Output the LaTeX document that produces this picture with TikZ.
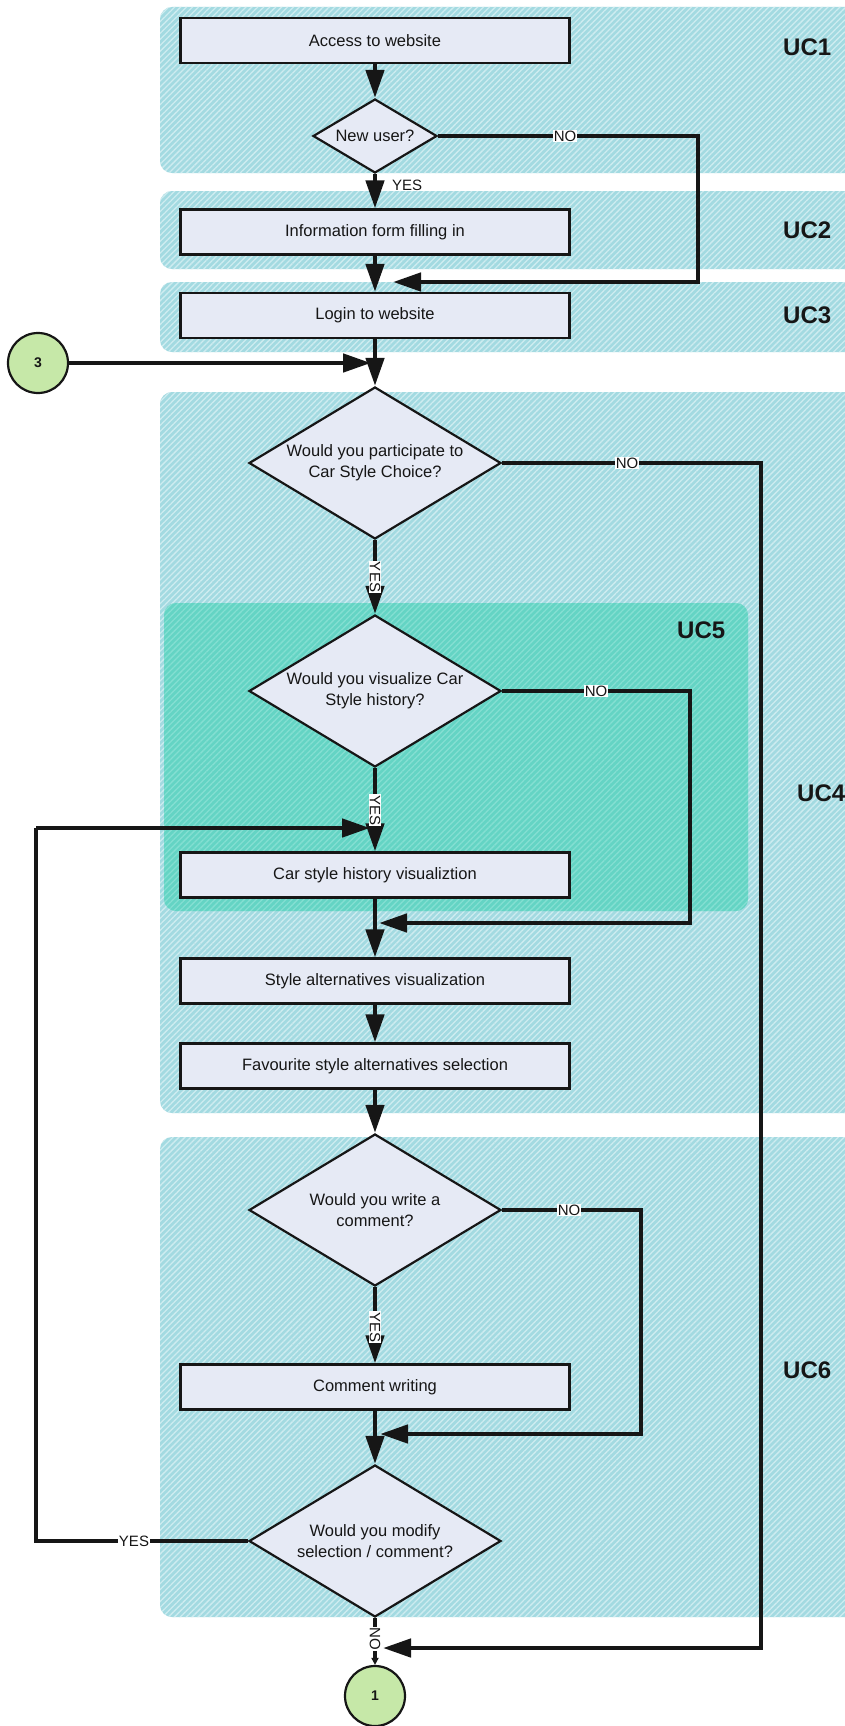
\documentclass[tikz,border=0pt]{standalone}
\usepackage{fontspec}
\setmainfont{Liberation Sans}
\usetikzlibrary{shapes.geometric,arrows.meta,patterns.meta}

\definecolor{ink}{RGB}{22,22,22}
\definecolor{ucfill}{RGB}{163,218,225}
\definecolor{uchatch}{RGB}{206,236,240}
\definecolor{ucdeep}{RGB}{100,212,196}
\definecolor{ucdeephatch}{RGB}{132,223,210}
\definecolor{boxfill}{RGB}{230,234,245}
\definecolor{cgreen}{RGB}{198,232,168}

\newcommand\bxfont{\fontsize{16.5}{21}\selectfont}
\newcommand\lblfont{\fontsize{15}{17}\selectfont}
\newcommand\ucfont{\bfseries\fontsize{24}{26}\selectfont}

\begin{document}
\begin{tikzpicture}[x=1pt,y=-1pt,
  panelbg/.style={fill=ucfill, rounded corners=12pt},
  panelhatch/.style={pattern={Lines[angle=45,distance=4.2pt,line width=1.3pt]},
                     pattern color=uchatch, rounded corners=12pt},
  stepbox/.style={rectangle, draw=ink, line width=2.2pt, fill=boxfill,
                  minimum width=389pt, minimum height=45pt, inner sep=0pt,
                  font=\bxfont, text=ink},
  decision/.style={diamond, draw=ink, line width=2.2pt, fill=boxfill,
                   aspect=1.66, inner sep=0pt, align=center,
                   font=\bxfont, text=ink,
                   minimum width=252pt, minimum height=152pt},
  connector/.style={circle, draw=ink, line width=2.2pt, fill=cgreen,
                    minimum size=60pt, inner sep=0pt,
                    font=\bfseries\fontsize{14}{16}\selectfont, text=ink},
  uclabel/.style={anchor=west, font=\ucfont, text=ink, inner sep=0pt},
  flow/.style={draw=ink, line width=4.6pt},
  arr/.style={flow, -{Triangle[length=28pt,width=18pt]}},
  lbl/.style={fill=white, inner sep=1pt, font=\lblfont, text=ink}]

\useasboundingbox (0,0) rectangle (845,1726);
\clip (0,0) rectangle (845,1726);
\fill[white] (0,0) rectangle (845,1726);

% use-case panels
\foreach \ya/\yb in {7/173, 191/269, 282/352, 392/1113, 1137/1617} {
  \path[panelbg] (160,\ya) rectangle (880,\yb);
  \path[panelhatch] (160,\ya) rectangle (880,\yb);
}
\path[panelbg, fill=ucdeep] (164,603) rectangle (748,911);
\path[panelhatch, pattern color=ucdeephatch] (164,603) rectangle (748,911);

\node[uclabel] (uc1) at (783,47) {UC1};
\node[uclabel] (uc2) at (783,230) {UC2};
\node[uclabel] (uc3) at (783,315) {UC3};
\node[uclabel] (uc4) at (797,793) {UC4};
\node[uclabel] (uc5) at (677,630) {UC5};
\node[uclabel] (uc6) at (783,1370) {UC6};

% steps and decisions
\node[stepbox] (access) at (375,40.5) {Access to website};
\node[decision, minimum width=124pt, minimum height=74pt] (newuser) at (375,136) {New user?};
\node[stepbox] (form) at (375,232) {Information form filling in};
\node[stepbox] (login) at (375,315.5) {Login to website};
\node[decision] (particip) at (375,463) {Would you participate to\\Car Style Choice?};
\node[decision] (visual) at (375,691) {Would you visualize Car\\Style history?};
\node[stepbox] (history) at (375,875) {Car style history visualiztion};
\node[stepbox] (altvis) at (375,981) {Style alternatives visualization};
\node[stepbox] (favsel) at (375,1066) {Favourite style alternatives selection};
\node[decision] (comment) at (375,1210) {Would you write a\\comment?};
\node[stepbox] (writing) at (375,1387) {Comment writing};
\node[decision] (modify) at (375,1541) {Would you modify\\selection / comment?};
\node[connector] (c3) at (38,363) {3};
\node[connector] (c1) at (375,1696) {1};

% junction points
\coordinate (n1a) at (698,136);
\coordinate (n1b) at (698,282);
\coordinate (n1c) at (393,282);
\coordinate (j3) at (371,363);
\coordinate (r1) at (761,463);
\coordinate (r2) at (761,1648);
\coordinate (r3) at (383,1648);
\coordinate (v1) at (690,691);
\coordinate (v2) at (690,923);
\coordinate (v3) at (379,923);
\coordinate (w1) at (641,1210);
\coordinate (w2) at (641,1434);
\coordinate (w3) at (380,1434);
\coordinate (l1) at (36,1541);
\coordinate (l2) at (36,828);
\coordinate (l3) at (370,828);

% connectors
\draw[arr] (access.south) -- (newuser.north);
\draw[arr] (newuser.south) -- (form.north);
\draw[arr] (newuser.east) -- (n1a) -- (n1b) -- (n1c);
\draw[arr] (form.south) -- (login.north);
\draw[arr] (login.south) -- (particip.north);
\draw[arr] (c3.east) -- (j3);
\draw[arr] (particip.east) -- (r1) -- (r2) -- (r3);
\draw[arr] (particip.south) -- (visual.north);
\draw[arr] (visual.east) -- (v1) -- (v2) -- (v3);
\draw[arr] (visual.south) -- (history.north);
\draw[arr] (l2) -- (l3);
\draw[arr] (history.south) -- (altvis.north);
\draw[arr] (altvis.south) -- (favsel.north);
\draw[arr] (favsel.south) -- (comment.north);
\draw[arr] (comment.east) -- (w1) -- (w2) -- (w3);
\draw[arr] (comment.south) -- (writing.north);
\draw[arr] (writing.south) -- (modify.north);
\draw[flow] (modify.west) -- (l1) -- (l2);
\draw[flow, -{Triangle[length=7pt,width=7pt]}] (modify.south) -- (c1.north);

% branch labels
\node[anchor=west, font=\lblfont, text=ink, inner sep=0pt] (yes1) at (392,185) {YES};
\node[lbl] (no1) at (565,136) {NO};
\node[lbl] (no2) at (627,463) {NO};
\node[lbl, rotate=-90] (yes2) at (375,577) {YES};
\node[lbl] (no3) at (596,691) {NO};
\node[lbl, rotate=-90] (yes3) at (375,810) {YES};
\node[lbl] (no4) at (569,1210) {NO};
\node[lbl, rotate=-90] (yes4) at (375,1327) {YES};
\node[lbl] (yes5) at (134,1541) {YES};
\node[lbl, rotate=-90] (no5) at (375,1639) {NO};
\end{tikzpicture}
\end{document}
